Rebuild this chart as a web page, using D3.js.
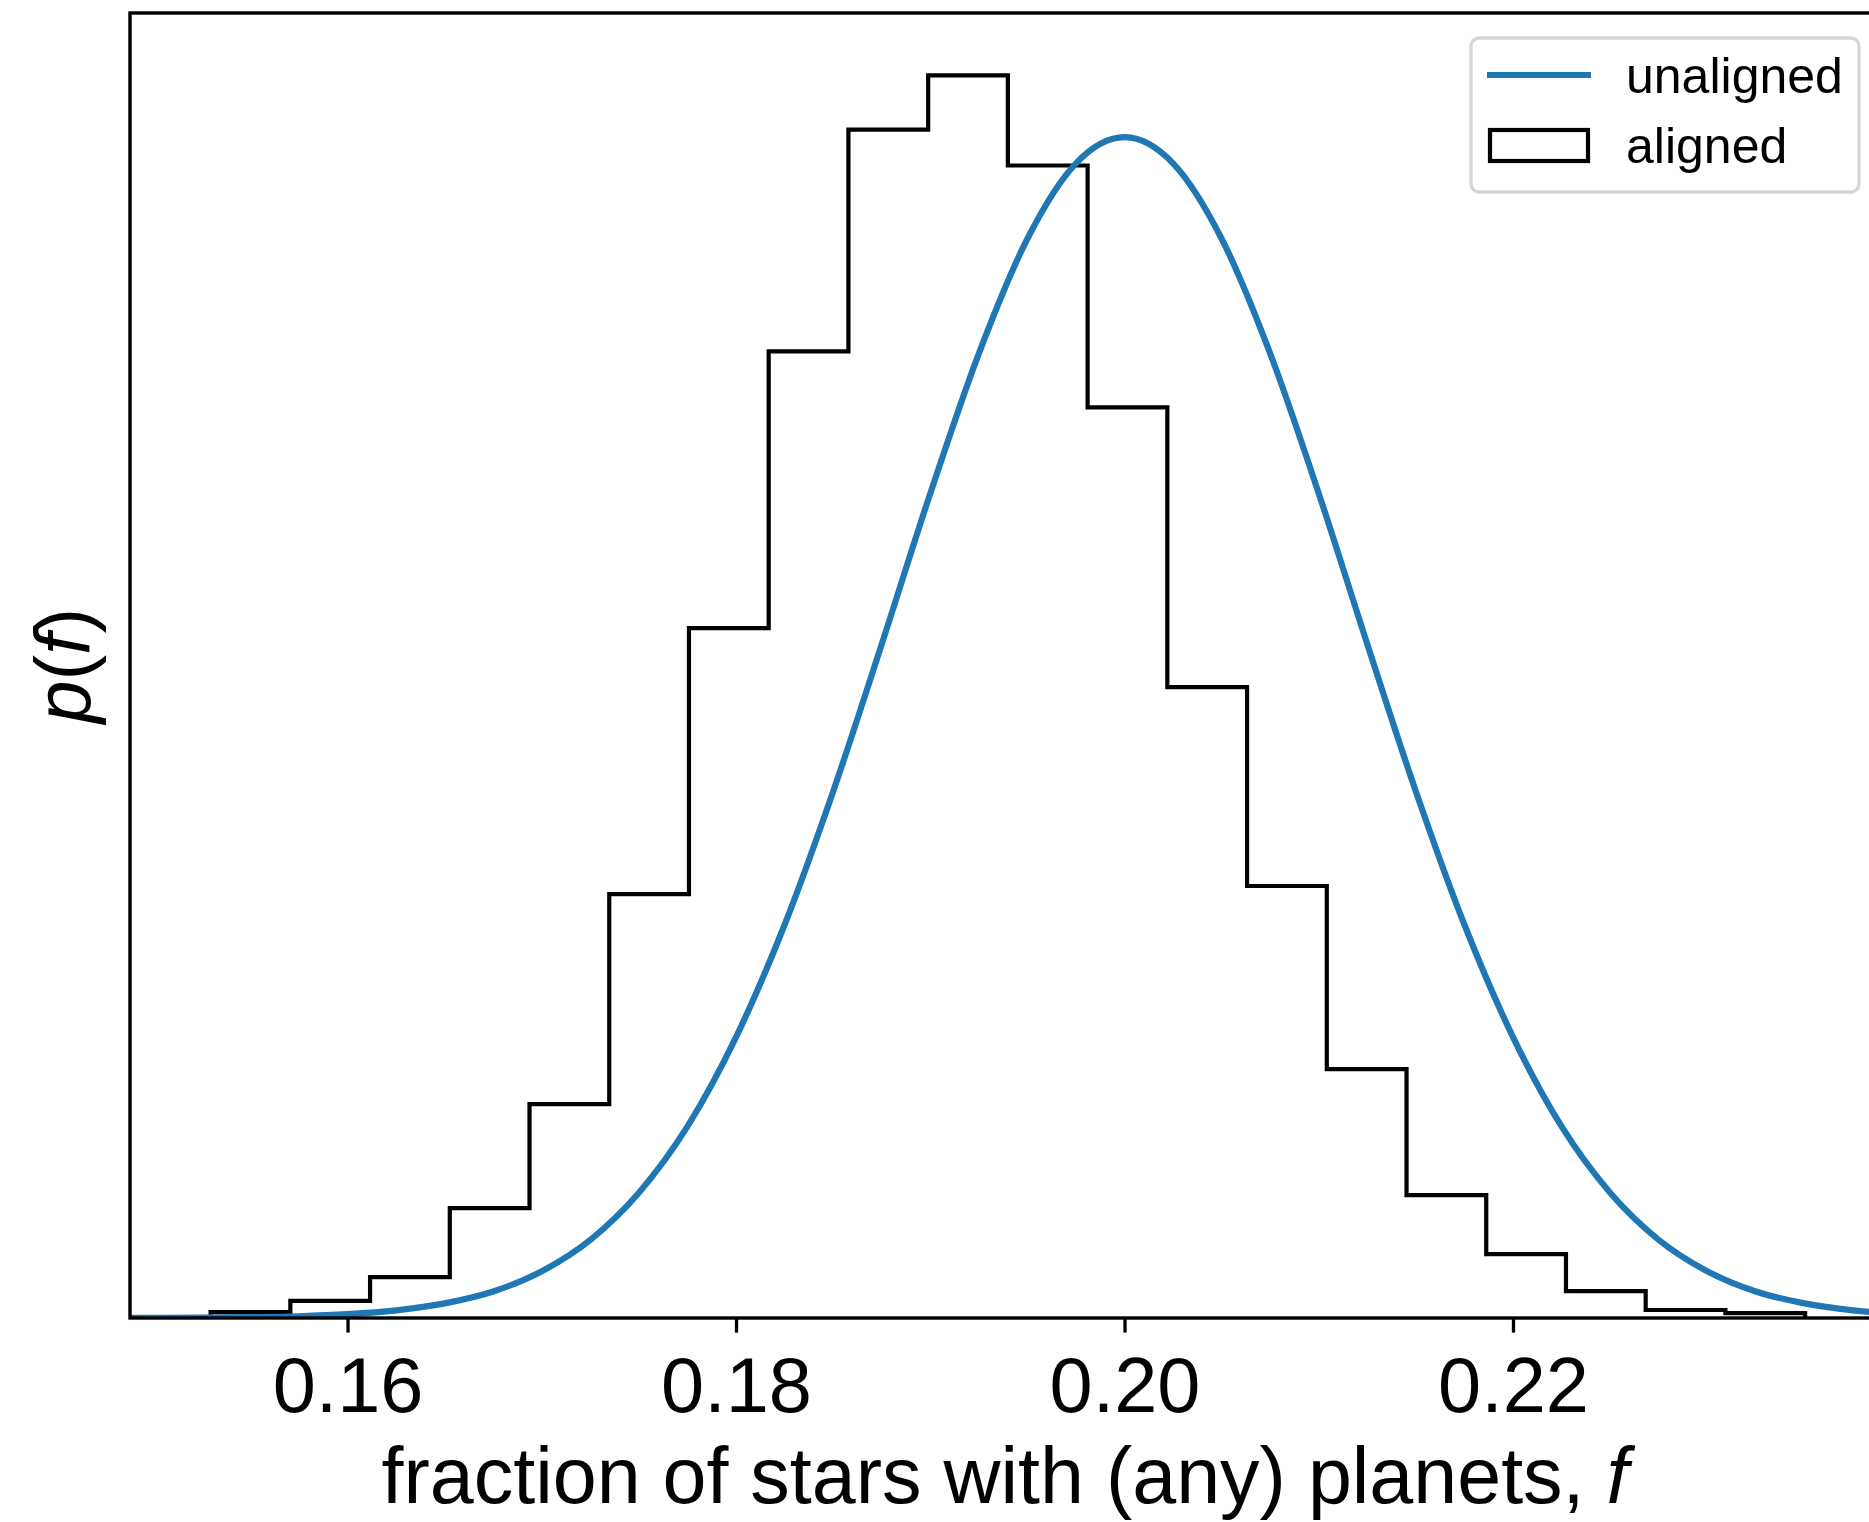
<!DOCTYPE html>
<html>
<head>
<meta charset="utf-8">
<script src="https://cdn.jsdelivr.net/npm/d3@7"></script>
<style>
	html, body { margin: 0; padding: 0; background: #fff; }
	svg { display: block; font-family: "Liberation Sans", Arial, sans-serif; }
</style>
</head>
<body>
<svg id="chart" width="1869" height="1522"></svg>
<script>
// histogram of the aligned sample (density per bin)
const binEdges = [0.15295, 0.157055, 0.161159, 0.165264, 0.169368, 0.173473, 0.177577,
	0.181682, 0.185786, 0.189891, 0.193995, 0.198100, 0.202204, 0.206309, 0.210413,
	0.214518, 0.218622, 0.222727, 0.226831, 0.230936, 0.235040];
const alignedDensity = [0.17, 0.49, 1.17, 3.15, 6.13, 12.15, 19.77, 27.70, 34.06, 35.61,
	33.03, 26.10, 18.08, 12.38, 7.13, 3.52, 1.83, 0.77, 0.23, 0.14];

// unaligned posterior
const curveF = [0.1475, 0.15, 0.1525, 0.155, 0.1575, 0.16, 0.1625, 0.165, 0.1675, 0.17,
	0.1725, 0.175, 0.1775, 0.18, 0.1825, 0.185, 0.1875, 0.19, 0.1925, 0.195, 0.1975, 0.2,
	0.2025, 0.205, 0.2075, 0.21, 0.2125, 0.215, 0.2175, 0.22, 0.2225, 0.225, 0.2275, 0.23,
	0.2325, 0.235, 0.2375, 0.24];
const unalignedDensity = [0.002, 0.005, 0.01, 0.024, 0.05, 0.11, 0.22, 0.42, 0.76, 1.34,
	2.24, 3.59, 5.49, 8.05, 11.27, 15.09, 19.31, 23.63, 27.64, 30.93, 33.09, 33.84,
	33.09, 30.93, 27.64, 23.63, 19.31, 15.09, 11.27, 8.05, 5.49, 3.59, 2.24, 1.34,
	0.76, 0.42, 0.22, 0.11];

const xTicks = [0.16, 0.18, 0.20, 0.22];
const xDomain = [0.1488, 0.2391];
const yDomain = [0, 37.4];
const legendLabels = ["unaligned", "aligned"];

const BLUE = "#1f77b4";
const plot = { left: 130, top: 13, right: 1884, bottom: 1318 };

const svg = d3.select("#chart");

const x = d3.scaleLinear().domain(xDomain).range([plot.left, plot.right]);
const y = d3.scaleLinear().domain(yDomain).range([plot.bottom, plot.top]);

svg.append("clipPath")
	.attr("id", "plotClip")
	.append("rect")
	.attr("x", plot.left)
	.attr("y", plot.top)
	.attr("width", plot.right - plot.left)
	.attr("height", plot.bottom - plot.top);

const area = svg.append("g").attr("clip-path", "url(#plotClip)");

// step outline, like histtype="step"
const stepPts = [[binEdges[0], 0]];
alignedDensity.forEach((d, i) => {
	stepPts.push([binEdges[i], d]);
	stepPts.push([binEdges[i + 1], d]);
});
stepPts.push([binEdges[binEdges.length - 1], 0]);

area.append("path")
	.datum(stepPts)
	.attr("fill", "none")
	.attr("stroke", "#000")
	.attr("stroke-width", 4.2)
	.attr("stroke-linejoin", "miter")
	.attr("d", d3.line().x(d => x(d[0])).y(d => y(d[1])));

area.append("path")
	.datum(curveF.map((f, i) => [f, unalignedDensity[i]]))
	.attr("fill", "none")
	.attr("stroke", BLUE)
	.attr("stroke-width", 6.2)
	.attr("d", d3.line().curve(d3.curveMonotoneX).x(d => x(d[0])).y(d => y(d[1])));

// x axis
const xAxis = svg.append("g")
	.attr("transform", `translate(0,${plot.bottom})`)
	.call(d3.axisBottom(x).tickValues(xTicks).tickFormat(d3.format(".2f"))
		.tickSize(14.6).tickPadding(24));
xAxis.select(".domain").remove();
xAxis.selectAll(".tick line").attr("stroke", "#000").attr("stroke-width", 3.3);
xAxis.selectAll(".tick text")
	.attr("fill", "#000")
	.attr("font-family", "Liberation Sans, Arial, sans-serif")
	.attr("font-size", 77.5);

// spines
svg.append("rect")
	.attr("x", plot.left)
	.attr("y", plot.top)
	.attr("width", plot.right - plot.left)
	.attr("height", plot.bottom - plot.top)
	.attr("fill", "none")
	.attr("stroke", "#000")
	.attr("stroke-width", 3.4);

// axis labels
const xLabel = svg.append("text")
	.attr("x", (plot.left + plot.right) / 2 - 2)
	.attr("y", 1503)
	.attr("text-anchor", "middle")
	.attr("font-size", 79);
xLabel.append("tspan").text("fraction of stars with (any) planets, ");
xLabel.append("tspan").attr("font-style", "italic").text("f");

const yLabel = svg.append("text")
	.attr("transform", `translate(90,${(plot.top + plot.bottom) / 2}) rotate(-90)`)
	.attr("text-anchor", "middle")
	.attr("font-size", 77);
yLabel.append("tspan").attr("font-style", "italic").text("p");
yLabel.append("tspan").text("(");
yLabel.append("tspan").attr("font-style", "italic").text("f");
yLabel.append("tspan").text(")");

// legend
const legend = svg.append("g");
legend.append("rect")
	.attr("x", 1471)
	.attr("y", 38)
	.attr("width", 388)
	.attr("height", 154)
	.attr("rx", 8)
	.attr("fill", "#fff")
	.attr("fill-opacity", 0.8)
	.attr("stroke", "#d6d6d6")
	.attr("stroke-width", 3.3);

legend.append("line")
	.attr("x1", 1487).attr("x2", 1591)
	.attr("y1", 75).attr("y2", 75)
	.attr("stroke", BLUE)
	.attr("stroke-width", 6.2);

legend.append("rect")
	.attr("x", 1490).attr("y", 130)
	.attr("width", 98).attr("height", 31)
	.attr("fill", "none")
	.attr("stroke", "#000")
	.attr("stroke-width", 4.2);

legend.selectAll("text.lab")
	.data(legendLabels)
	.join("text")
	.attr("class", "lab")
	.attr("x", 1626)
	.attr("y", (d, i) => 93 + i * 70)
	.attr("font-size", 50)
	.text(d => d);
</script>
</body>
</html>
